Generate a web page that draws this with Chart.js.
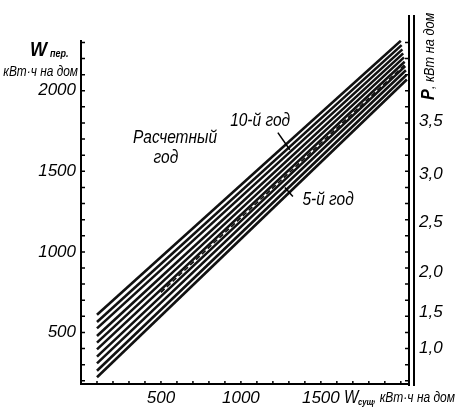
<!DOCTYPE html>
<html>
<head>
<meta charset="utf-8">
<script src="https://cdn.jsdelivr.net/npm/chart.js@4.4.0/dist/chart.umd.min.js"></script>
<style>
  html, body { margin: 0; padding: 0; background: #fff; }
</style>
</head>
<body>
<canvas id="chart" width="456" height="409"></canvas>
<script>
const FONT = "'Liberation Sans', Arial, sans-serif";

// family of lines: W_сущ -> W_пер (start and end of every line)
const lineStartX = [100, 100, 100, 100, 100, 100, 100, 100, 100, 100];
const lineStartY = [610, 565, 525, 478, 437, 395, 350, 308, 262, 222];
const lineEndX = [2000, 2005, 2010, 2015, 2020, 2024, 2028, 2032, 2035, 2038];
const lineEndY = [2310, 2283, 2257, 2232, 2207, 2180, 2153, 2127, 2098, 2070];

// dash line "5-й год"
const year5X = [500, 2030];
const year5Y = [749, 2166];

// axes
const xTickLabels = [500, 1000, 1500];
const yTickLabels = [500, 1000, 1500, 2000];
const pLabels = ["1,0", "1,5", "2,0", "2,5", "3,0", "3,5"];
const pAtW = [400, 624, 872, 1182, 1479, 1808];

// text in the field (data units)
const notes = [
  { text: "10-й год", x: 1120, y: 1814 },
  { text: "Расчетный", x: 588, y: 1705 },
  { text: "год", x: 531, y: 1585 },
  { text: "5-й год", x: 1545, y: 1324 },
];
const leaders = [
  { x: [1231, 1306], y: [1740, 1634] },
  { x: [1325, 1275], y: [1343, 1399] },
];

const datasets = lineStartY.map((y0, i) => ({
  data: [
    { x: lineStartX[i], y: y0 },
    { x: lineEndX[i], y: lineEndY[i] },
  ],
  showLine: true,
  borderColor: "#111",
  borderWidth: 2.6,
  pointRadius: 0,
}));
datasets.push({
  data: [
    { x: year5X[0], y: year5Y[0] },
    { x: year5X[1], y: year5Y[1] },
  ],
  showLine: true,
  borderColor: "#111",
  borderWidth: 1.6,
  borderDash: [5, 3],
  pointRadius: 0,
});

const tickFont = { family: FONT, size: 17, style: "italic" };
const noGrid = { display: false, drawTicks: false, tickLength: 0 };

// narrow italic text, like the drafting letters of the original
function narrowText(c, text, x, y, font, sx) {
  c.save();
  c.font = font;
  c.translate(x, y);
  c.scale(sx, 1);
  c.fillText(text, 0, 0);
  c.restore();
}

const framePlugin = {
  id: "frame",
  afterDraw(chart) {
    const c = chart.ctx;
    const a = chart.chartArea;
    const xs = chart.scales.x;
    const ys = chart.scales.y;
    c.save();
    c.strokeStyle = "#000";
    c.fillStyle = "#000";

    // axis lines
    c.lineWidth = 2;
    c.beginPath();
    c.moveTo(a.left, a.top);
    c.lineTo(a.left, a.bottom);
    c.lineTo(a.right, a.bottom);
    c.stroke();
    c.beginPath();
    c.moveTo(a.right + 1, 15);
    c.lineTo(a.right + 1, a.bottom + 2);
    c.moveTo(a.right + 6, 15);
    c.lineTo(a.right + 6, a.bottom + 2);
    c.stroke();

    // small ticks every 100
    c.lineWidth = 1.5;
    c.beginPath();
    for (let v = 200; v <= 2300; v += 100) {
      const py = ys.getPixelForValue(v);
      c.moveTo(a.left, py);
      c.lineTo(a.left + 4, py);
      c.moveTo(a.right - 3, py);
      c.lineTo(a.right, py);
    }
    for (let v = 100; v <= 2000; v += 100) {
      const px = xs.getPixelForValue(v);
      c.moveTo(px, a.bottom);
      c.lineTo(px, a.bottom - 3);
    }
    c.stroke();

    // leader lines
    c.lineWidth = 1.5;
    leaders.forEach((l) => {
      c.beginPath();
      c.moveTo(xs.getPixelForValue(l.x[0]), ys.getPixelForValue(l.y[0]));
      c.lineTo(xs.getPixelForValue(l.x[1]), ys.getPixelForValue(l.y[1]));
      c.stroke();
    });

    // notes
    c.textAlign = "center";
    c.textBaseline = "middle";
    notes.forEach((n) => {
      narrowText(c, n.text, xs.getPixelForValue(n.x), ys.getPixelForValue(n.y),
        `italic 18px ${FONT}`, 0.86);
    });

    // left title
    c.textBaseline = "alphabetic";
    c.textAlign = "left";
    narrowText(c, "W", 30, 56, `italic bold 20px ${FONT}`, 0.9);
    narrowText(c, "пер.", 50, 57, `italic bold 10px ${FONT}`, 0.9);
    c.textAlign = "right";
    narrowText(c, "кВт·ч на дом", 78, 76, `italic 14px ${FONT}`, 0.85);

    // bottom title
    c.textAlign = "left";
    narrowText(c, "W", 344, 403, `italic 18px ${FONT}`, 0.85);
    narrowText(c, "сущ", 358, 405, `italic bold 9px ${FONT}`, 0.85);
    narrowText(c, ", кВт·ч на дом", 373, 402, `italic 15px ${FONT}`, 0.8);

    // right title, read from bottom to top
    c.translate(434, 100);
    c.rotate(-Math.PI / 2);
    c.textAlign = "left";
    narrowText(c, "P", 0, 0, `italic bold 18px ${FONT}`, 0.9);
    narrowText(c, ", кВт на дом", 11, 0, `italic 15px ${FONT}`, 0.85);
    c.restore();
  },
};

new Chart(document.getElementById("chart"), {
  type: "scatter",
  data: { datasets },
  options: {
    responsive: false,
    animation: false,
    devicePixelRatio: 1,
    layout: { padding: { top: 40, left: 0, right: 0, bottom: 0 } },
    plugins: { legend: { display: false }, tooltip: { enabled: false } },
    scales: {
      x: {
        type: "linear",
        position: "bottom",
        min: 0,
        max: 2045,
        grid: noGrid,
        border: { display: false },
        afterBuildTicks: (s) => {
          s.ticks = xTickLabels.map((v) => ({ value: v }));
        },
        afterFit: (s) => {
          s.height = 25;
        },
        ticks: {
          font: tickFont,
          color: "#000",
          padding: 4,
          maxRotation: 0,
          callback: (v) => String(v),
        },
      },
      y: {
        type: "linear",
        position: "left",
        min: 180,
        max: 2315,
        grid: noGrid,
        border: { display: false },
        afterBuildTicks: (s) => {
          s.ticks = yTickLabels.map((v) => ({ value: v }));
        },
        afterFit: (s) => {
          s.width = 81;
        },
        ticks: {
          font: tickFont,
          color: "#000",
          padding: 5,
          callback: (v) => String(v),
        },
      },
      p: {
        type: "linear",
        position: "right",
        min: 180,
        max: 2315,
        grid: noGrid,
        border: { display: false },
        afterBuildTicks: (s) => {
          s.ticks = pAtW.map((v) => ({ value: v }));
        },
        afterFit: (s) => {
          s.width = 48;
        },
        ticks: {
          font: tickFont,
          color: "#000",
          padding: 11,
          callback: (v, i) => pLabels[i],
        },
      },
    },
  },
  plugins: [framePlugin],
});
</script>
</body>
</html>
